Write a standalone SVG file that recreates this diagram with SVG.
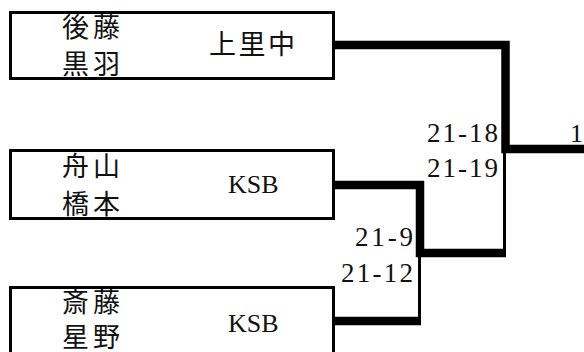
<svg xmlns="http://www.w3.org/2000/svg" width="584" height="352" viewBox="0 0 584 352">
<style>
.box{fill:#fff;stroke:#000;stroke-width:3}
.jp{font-family:"Noto Sans CJK JP",sans-serif;font-size:27px;fill:#111}
.lat{font-family:"Liberation Serif","DejaVu Serif",serif;font-size:26px;fill:#111}
.sc{font-family:"Liberation Serif","DejaVu Serif",serif;font-size:27px;fill:#111;text-anchor:end}
.thick{fill:none;stroke:#000;stroke-width:8.5;stroke-linejoin:miter}
.thin{fill:none;stroke:#000;stroke-width:3}
</style>
<rect width="584" height="352" fill="#fff"/>
<g id="node-gotoh">
<rect class="box" x="10.5" y="12.5" width="323" height="66"/>
<text class="jp" x="62" y="37" textLength="58">後藤</text>
<text class="jp" x="62" y="74" textLength="58">黒羽</text>
<text class="jp" x="209" y="54" textLength="86">上里中</text>
</g>
<g id="node-funayama">
<rect class="box" x="10.5" y="150.5" width="323" height="68"/>
<text class="jp" x="62" y="176" textLength="58">舟山</text>
<text class="jp" x="62" y="214" textLength="58">橋本</text>
<text class="lat" x="228" y="193">KSB</text>
</g>
<g id="node-saitoh">
<rect class="box" x="10.5" y="287.5" width="323" height="80"/>
<text class="jp" x="62" y="312" textLength="58">斎藤</text>
<text class="jp" x="62" y="347" textLength="58">星野</text>
<text class="lat" x="228" y="332">KSB</text>
</g>
<g id="connectors">
<path class="thick" d="M333 45 H505.5 V149 H590"/>
<path class="thin" d="M504.5 149 V254"/>
<path class="thick" d="M333 185 H420 V253 H506"/>
<path class="thick" d="M333 321 H421"/>
<path class="thin" d="M419.5 253 V321"/>
</g>
<g id="scores">
<text class="sc" x="498" y="142" textLength="71">21-18</text>
<text class="sc" x="498" y="177" textLength="71">21-19</text>
<text class="sc" x="413" y="246" textLength="58">21-9</text>
<text class="sc" x="413" y="282" textLength="72">21-12</text>
<text class="lat" x="570" y="142" font-size="27">1</text>
</g>
</svg>
